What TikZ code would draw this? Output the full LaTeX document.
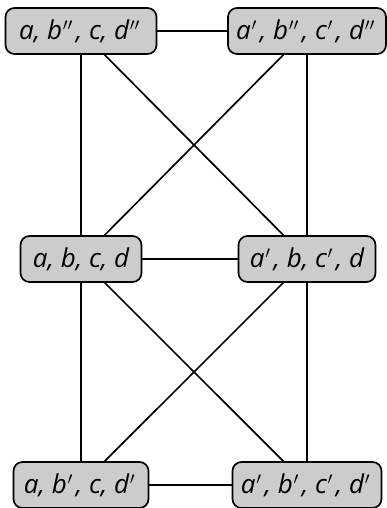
\documentclass[tikz,border=0pt]{standalone}
\usepackage{fontspec}
\newfontfamily\lbl[Ligatures=TeXOff]{Open Sans}
\newcommand{\pa}{\kern0.8pt\ensuremath{{}^{\prime}}\kern3pt}
\newcommand{\pb}{\kern0.8pt\ensuremath{{}^{\prime\prime}}\kern3pt}
\begin{document}
\begin{tikzpicture}[x=1pt,y=-1pt,
  box/.style={draw, line width=1.7pt, fill=gray!40, rounded corners=9pt,
    minimum height=46pt, inner xsep=2pt, inner ysep=2pt,
    font=\lbl\itshape\fontsize{26}{29}\selectfont},
  edge/.style={line width=1.7pt}]
\useasboundingbox (0,0) rectangle (387,508);
\node[box, minimum width=151pt] (tl) at (81,31) {a, b\pb, c, d\pb};
\node[box, minimum width=158pt] (tr) at (307,31) {a\pa, b\pb, c\pa, d\pb};
\node[box, minimum width=121pt] (ml) at (81,259) {a, b, c, d};
\node[box, minimum width=137pt] (mr) at (307,259) {a\pa, b, c\pa, d};
\node[box, minimum width=135pt] (bl) at (81,485) {a, b\pa, c, d\pa};
\node[box, minimum width=149pt] (br) at (307,485) {a\pa, b\pa, c\pa, d\pa};
\draw[edge] (tl) -- (tr);
\draw[edge] (tl) -- (ml);
\draw[edge] (tl) -- (mr);
\draw[edge] (tr) -- (ml);
\draw[edge] (tr) -- (mr);
\draw[edge] (ml) -- (mr);
\draw[edge] (ml) -- (bl);
\draw[edge] (ml) -- (br);
\draw[edge] (mr) -- (bl);
\draw[edge] (mr) -- (br);
\draw[edge] (bl) -- (br);
\end{tikzpicture}
\end{document}
